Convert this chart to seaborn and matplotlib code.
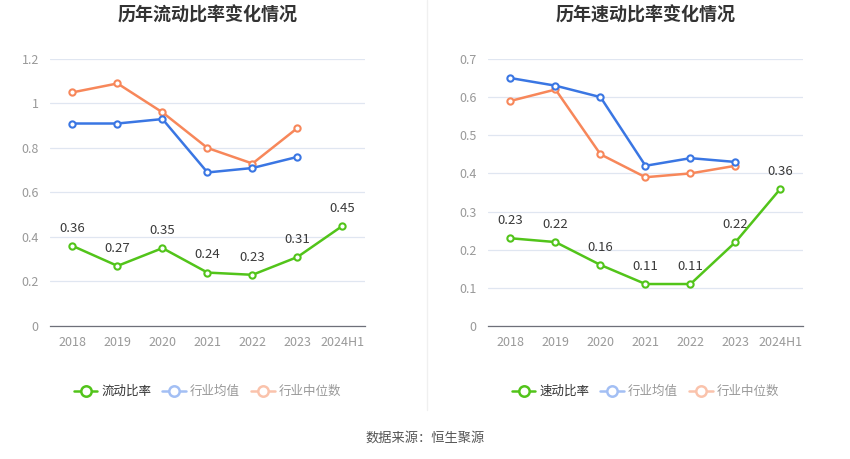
import matplotlib
matplotlib.use("Agg")
import matplotlib.pyplot as plt
import seaborn as sns
import pandas as pd
from matplotlib.lines import Line2D

sns.set_theme(style="white")
plt.rcParams['font.family'] = ['Noto Sans CJK SC', 'DejaVu Sans']
plt.rcParams['axes.unicode_minus'] = False

categories = ["2018", "2019", "2020", "2021", "2022", "2023", "2024H1"]
current_ratio = [0.36, 0.27, 0.35, 0.24, 0.23, 0.31, 0.45]
current_avg = [0.91, 0.91, 0.93, 0.69, 0.71, 0.76]
current_median = [1.05, 1.09, 0.96, 0.80, 0.73, 0.89]
quick_ratio = [0.23, 0.22, 0.16, 0.11, 0.11, 0.22, 0.36]
quick_avg = [0.65, 0.63, 0.60, 0.42, 0.44, 0.43]
quick_median = [0.59, 0.62, 0.45, 0.39, 0.40, 0.42]

GREEN = "#52c41a"
BLUE = "#3a76e3"
ORANGE = "#f7875a"
BLUE_L = "#a3bff4"
ORANGE_L = "#fac3ac"

fig = plt.figure(figsize=(8.5, 4.59), dpi=100)


def draw(ax, title, main_name, main, avg, med, yticks, ylabels, ymax):
    n = len(categories)
    df_main = pd.DataFrame({"x": list(range(n)), "y": main})
    df_avg = pd.DataFrame({"x": list(range(len(avg))), "y": avg})
    df_med = pd.DataFrame({"x": list(range(len(med))), "y": med})
    for df, c, z in [(df_med, ORANGE, 2), (df_avg, BLUE, 3), (df_main, GREEN, 4)]:
        sns.lineplot(data=df, x="x", y="y", ax=ax, color=c, linewidth=1.8,
                     marker="o", markersize=4.5, markerfacecolor="white",
                     markeredgecolor=c, markeredgewidth=1.5, zorder=z)
    for i, v in enumerate(main):
        ax.annotate(f"{v:.2f}", (i, v), xytext=(0, 8), textcoords="offset points",
                    ha="center", va="bottom", fontsize=9.5, color="#3a3a3a")
    ax.set_xlim(-0.5, n - 0.5)
    ax.set_ylim(0, ymax)
    ax.set_xticks(range(n))
    ax.set_xticklabels(categories)
    ax.set_yticks(yticks)
    ax.set_yticklabels(ylabels)
    ax.set_xlabel("")
    ax.set_ylabel("")
    ax.grid(axis="y", color="#e0e6f1", linewidth=0.9)
    ax.set_axisbelow(True)
    for s in ["top", "right", "left"]:
        ax.spines[s].set_visible(False)
    ax.spines["bottom"].set_color("#6e7079")
    ax.spines["bottom"].set_linewidth(0.9)
    ax.tick_params(axis="x", colors="#999999", labelsize=9, length=4, width=0.9,
                   direction="out", pad=3)
    ax.tick_params(axis="x", color="#6e7079")
    ax.tick_params(axis="y", colors="#999999", labelsize=9, length=0, pad=8)
    ax.set_title(title, fontsize=13, fontweight="bold", color="#333333", pad=28)
    handles = [
        Line2D([0], [0], color=GREEN, lw=1.8, marker="o", markersize=7.5,
               markerfacecolor="white", markeredgecolor=GREEN, markeredgewidth=1.8),
        Line2D([0], [0], color=BLUE_L, lw=1.8, marker="o", markersize=7.5,
               markerfacecolor="white", markeredgecolor=BLUE_L, markeredgewidth=1.8),
        Line2D([0], [0], color=ORANGE_L, lw=1.8, marker="o", markersize=7.5,
               markerfacecolor="white", markeredgecolor=ORANGE_L, markeredgewidth=1.8),
    ]
    leg = ax.legend(handles, [main_name, "行业均值", "行业中位数"], loc="center",
                    bbox_to_anchor=(0.5, -0.245), ncol=3, frameon=False,
                    fontsize=9, handlelength=1.9, handletextpad=0.3,
                    columnspacing=0.9)
    cols = ["#333333", "#999999", "#999999"]
    for t, c in zip(leg.get_texts(), cols):
        t.set_color(c)


ax1 = fig.add_axes([0.0588, 0.2898, 0.3706, 0.5817])
draw(ax1, "历年流动比率变化情况", "流动比率", current_ratio, current_avg, current_median,
     [0, 0.2, 0.4, 0.6, 0.8, 1.0, 1.2], ["0", "0.2", "0.4", "0.6", "0.8", "1", "1.2"], 1.2)

ax2 = fig.add_axes([0.5741, 0.2898, 0.3706, 0.5817])
draw(ax2, "历年速动比率变化情况", "速动比率", quick_ratio, quick_avg, quick_median,
     [0, 0.1, 0.2, 0.3, 0.4, 0.5, 0.6, 0.7],
     ["0", "0.1", "0.2", "0.3", "0.4", "0.5", "0.6", "0.7"], 0.7)

fig.add_artist(Line2D([427 / 850, 427 / 850], [1 - 410 / 459, 1.0],
                      transform=fig.transFigure, color="#f0f0f0", linewidth=1))
fig.text(0.5, 1 - 438 / 459, "数据来源：恒生聚源", ha="center", va="center",
         fontsize=9.5, color="#555555")

fig.savefig("out.png", dpi=100, facecolor="white")
